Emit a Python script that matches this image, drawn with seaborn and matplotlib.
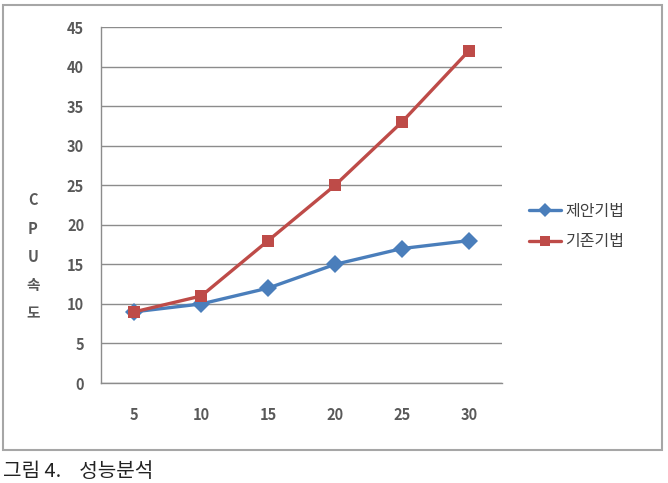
import pandas as pd
import seaborn as sns
import matplotlib.pyplot as plt
from matplotlib.patches import Rectangle

# data
x_values = [5, 10, 15, 20, 25, 30]
proposed = [9, 10, 12, 15, 17, 18]
existing = [9, 11, 18, 25, 33, 42]
series_names = ['제안기법', '기존기법']

df = pd.DataFrame({
    'x': x_values * 2,
    'value': proposed + existing,
    'series': [series_names[0]] * len(x_values) + [series_names[1]] * len(x_values),
})

sns.set_theme(style='white')
plt.rcParams['font.family'] = ['Noto Sans CJK KR', 'DejaVu Sans']

fig = plt.figure(figsize=(6.68, 4.83), dpi=100)
ax = fig.add_axes([0.151, 0.207, 0.601, 0.737])

palette = {series_names[0]: '#4A7EBB', series_names[1]: '#BE4B48'}
sns.lineplot(data=df, x='x', y='value', hue='series', style='series',
             palette=palette, markers={series_names[0]: 'D', series_names[1]: 's'},
             dashes=False, linewidth=2.4, markersize=9, markeredgewidth=0,
             ax=ax)

ax.set_xlim(2.5, 32.5)
ax.set_ylim(0, 45)
ax.set_yticks(range(0, 50, 5))
ax.set_xticks(x_values)
ax.yaxis.grid(True, color='#8c8c8c', linewidth=1)
ax.set_axisbelow(True)
for side in ['top', 'right']:
    ax.spines[side].set_visible(False)
for side in ['left', 'bottom']:
    ax.spines[side].set_color('#8c8c8c')
    ax.spines[side].set_linewidth(1)
ax.tick_params(axis='both', length=0, colors='#595959', labelsize=10.5)
ax.tick_params(axis='x', pad=17)
ax.tick_params(axis='y', pad=12)
for lbl in ax.get_xticklabels() + ax.get_yticklabels():
    lbl.set_fontweight('bold')
ax.set_xlabel('')
ax.set_ylabel('')

# stacked vertical y label
fig.text(0.049, 0.468, 'C\nP\nU\n속\n도', ha='center', va='center',
         fontsize=10.5, fontweight='bold', color='#595959', linespacing=1.95)

leg = ax.legend(loc='center left', bbox_to_anchor=(1.03, 0.44), frameon=False,
                fontsize=11.5, handlelength=2.0, handletextpad=0.3, labelspacing=0.85,
                markerscale=0.75)
for t in leg.get_texts():
    t.set_color('#404040')

# outer chart border
fig.patches.append(Rectangle((0.004, 0.068), 0.987, 0.922, transform=fig.transFigure,
                             fill=False, edgecolor='#a6a6a6', linewidth=1.5))

fig.text(0.004, 0.024, '그림 4.    성능분석', ha='left', va='center',
         fontsize=14.5, color='#222222')

fig.savefig('out.png', dpi=100)
